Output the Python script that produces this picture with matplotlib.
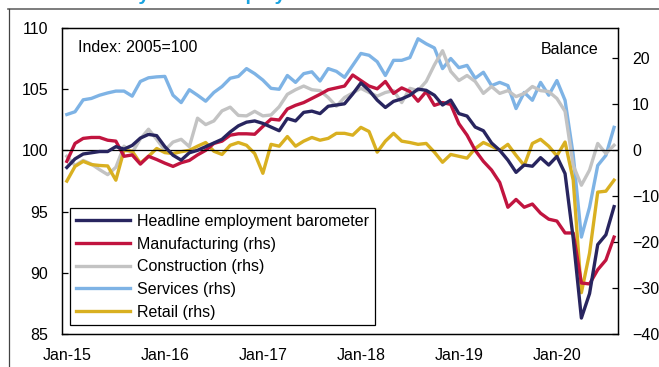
import numpy as np
import matplotlib
matplotlib.use("Agg")
import matplotlib.pyplot as plt
from matplotlib.lines import Line2D

plt.rcParams['font.family'] = ['Liberation Sans', 'DejaVu Sans']
plt.rcParams['font.size'] = 11.5

# Monthly data, Jan-15 .. Aug-20
headline = [98.6, 99.3, 99.7, 99.8, 99.9, 99.9, 100.3, 100.1, 100.4, 101.0,
            101.3, 101.2, 100.3, 99.6, 99.2, 99.8, 100.0, 100.3, 100.6, 100.9,
            101.5, 102.0, 102.3, 102.4, 102.2, 101.9, 101.6, 102.6, 102.4, 103.1,
            103.2, 103.0, 103.6, 103.7, 103.8, 104.6, 105.5, 104.9, 104.1, 103.5,
            104.0, 104.2, 104.5, 105.0, 104.9, 104.5, 103.7, 104.1, 103.0, 102.8,
            101.9, 101.6, 100.6, 100.0, 99.2, 98.2, 98.8, 98.7, 99.4, 98.8,
            99.5, 98.1, 92.8, 86.3, 88.3, 92.3, 93.1, 95.4]
manufacturing = [-2.4, 1.5, 2.6, 2.8, 2.8, 2.2, 2.0, -1.3, -1.0, -3.0,
                 -1.3, -2.0, -2.8, -3.5, -2.7, -2.2, -1.0, 0.0, 1.5, 2.0,
                 3.3, 3.6, 3.6, 3.5, 5.2, 6.8, 6.6, 9.0, 9.8, 10.4,
                 11.3, 12.2, 13.2, 13.6, 14.0, 16.4, 15.2, 14.0, 13.4, 15.0,
                 12.4, 13.6, 12.8, 10.7, 12.8, 9.8, 10.4, 10.0, 5.8, 3.3,
                 0.0, -2.4, -4.3, -7.0, -12.4, -10.7, -12.4, -11.7, -13.7, -15.0,
                 -15.4, -18.0, -18.0, -28.9, -29.1, -26.0, -23.9, -18.9]
construction = [-1.3, -3.3, -2.2, -3.0, -4.2, -5.3, -3.7, 0.9, -0.5, 2.5,
                4.6, 2.4, 0.0, 1.8, 2.4, 0.8, 7.0, 5.6, 6.4, 8.6,
                9.4, 7.6, 7.5, 8.5, 7.5, 7.7, 9.5, 12.2, 13.2, 14.0,
                13.2, 13.0, 11.5, 9.6, 11.5, 12.5, 13.5, 12.6, 11.8, 12.6,
                13.0, 10.4, 13.5, 13.0, 15.0, 18.6, 21.7, 17.2, 15.2, 16.3,
                15.0, 12.4, 13.9, 12.4, 13.0, 11.7, 12.4, 13.9, 13.0, 12.8,
                11.3, 8.5, -3.3, -7.6, -4.3, 1.5, -0.7, 1.1]
services = [7.8, 8.4, 11.0, 11.3, 12.0, 12.5, 12.9, 12.9, 11.8, 15.0,
            15.8, 16.0, 16.1, 12.0, 10.4, 13.2, 12.0, 10.7, 12.6, 13.9,
            15.7, 16.1, 17.8, 16.7, 15.3, 13.5, 13.3, 16.3, 14.8, 16.7,
            17.1, 15.1, 17.8, 17.2, 15.9, 18.5, 21.1, 20.7, 19.3, 16.3,
            19.6, 19.6, 20.2, 24.3, 23.2, 22.3, 17.8, 20.0, 18.0, 18.5,
            15.7, 17.0, 14.1, 14.8, 14.1, 9.1, 12.6, 10.9, 14.8, 12.0,
            15.2, 10.9, -1.0, -18.9, -12.4, -3.3, -1.1, 5.0]
retail = [-6.7, -3.5, -2.4, -3.1, -3.3, -3.4, -6.5, 0.0, -0.2, -2.8,
          -1.3, 0.4, -0.5, -0.7, -0.3, 0.0, 0.9, 1.7, -0.2, -0.9,
          1.1, 1.7, 1.1, -0.7, -5.0, 1.3, 0.9, 3.0, 0.9, 2.0,
          2.8, 2.2, 2.6, 3.7, 3.7, 3.3, 5.0, 4.1, -0.4, 2.0,
          3.7, 2.0, 1.7, 1.3, 1.5, -0.4, -2.6, -0.9, -1.3, -1.7,
          0.4, 1.7, 0.9, 0.0, 1.3, -1.1, -3.3, 1.5, 2.4, 0.9,
          -1.2, 1.8, -6.5, -31.0, -22.4, -9.1, -8.9, -6.5]

tick_labels = ["Jan-15", "Jan-16", "Jan-17", "Jan-18", "Jan-19", "Jan-20"]
left_ticks = [85, 90, 95, 100, 105, 110]
right_ticks = [-40, -30, -20, -10, 0, 10, 20]

NAVY = '#28255F'
CRIMSON = '#C1143F'
GREY = '#C3C3C3'
BLUE = '#7EB3E5'
YELLOW = '#D9B021'
LW = 2.4

x = np.arange(len(headline))

fig = plt.figure(figsize=(6.59, 3.67), dpi=100)
ax = fig.add_axes([0.094, 0.090, 0.844, 0.834])
ax2 = ax.twinx()

# frame around the whole chart (cut at right and bottom like the source)
fig.add_artist(Line2D([8 / 659, 1.0], [1 - 8.5 / 367, 1 - 8.5 / 367],
                      transform=fig.transFigure, color='#666666', lw=1.2))
fig.add_artist(Line2D([8.5 / 659, 8.5 / 659], [0.0, 1 - 8.5 / 367],
                      transform=fig.transFigure, color='#444444', lw=0.9))
# title sits above the visible area, only its descenders show
fig.text(0.128, 1.0, "Survey-based employment indicators", color='#1AA3E0',
         fontsize=14, fontweight='bold', va='baseline', ha='left')

ax.axhline(100, color='black', lw=0.9, zorder=1)

h_serv, = ax2.plot(x, services, color=BLUE, lw=LW, label='Services (rhs)')
h_cons, = ax2.plot(x, construction, color=GREY, lw=LW, label='Construction (rhs)')
h_ret, = ax2.plot(x, retail, color=YELLOW, lw=LW, label='Retail (rhs)')
h_man, = ax2.plot(x, manufacturing, color=CRIMSON, lw=LW, label='Manufacturing (rhs)')
h_head, = ax.plot(x, headline, color=NAVY, lw=LW, label='Headline employment barometer')

# headline on top of the rhs series
ax.set_zorder(ax2.get_zorder() + 1)
ax.patch.set_visible(False)

ax.set_xlim(-0.6, 67.5)
ax.set_ylim(85, 110)
ax2.set_ylim(-40, 80 / 3)

ax.set_xticks(np.arange(0, 61, 12))
ax.set_xticklabels(tick_labels)
ax.set_yticks(left_ticks)
ax2.set_yticks(right_ticks)

ax.tick_params(axis='x', length=0, pad=10)
ax.tick_params(axis='y', direction='in', length=4.5, width=0.9, pad=10)
ax2.tick_params(axis='y', direction='in', length=4.5, width=0.9, pad=10)
for a in (ax, ax2):
    for s in a.spines.values():
        s.set_linewidth(0.9)
        s.set_color('black')

ax.text(0.029, 0.935, "Index: 2005=100", transform=ax.transAxes, va='center', ha='left')
ax.text(0.964, 0.93, "Balance", transform=ax.transAxes, va='center', ha='right')

leg = ax.legend(handles=[h_head, h_man, h_cons, h_serv, h_ret],
                loc='lower left', bbox_to_anchor=(0.0144, 0.029),
                fancybox=False, edgecolor='black', framealpha=1,
                handlelength=3.4, handletextpad=0.45, labelspacing=0.48,
                borderpad=0.35, borderaxespad=0)
leg.get_frame().set_linewidth(0.9)

fig.savefig('out.png', dpi=100)
